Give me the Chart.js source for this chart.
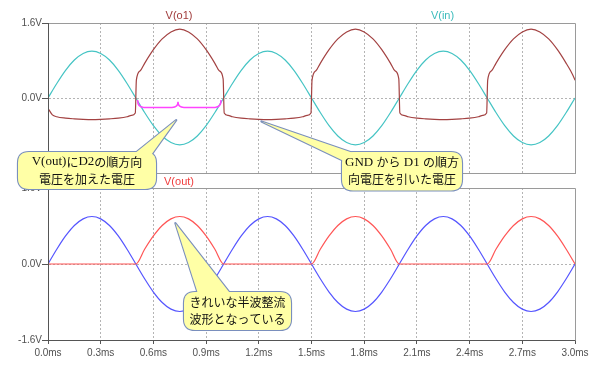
<!DOCTYPE html>
<html><head><meta charset="utf-8">
<script src="https://cdn.jsdelivr.net/npm/chart.js@4.4.1/dist/chart.umd.min.js"></script>
<style>
html,body{margin:0;padding:0;background:#fff;}
#wrap{position:relative;width:600px;height:366px;overflow:hidden;background:#fff;}
#top{position:absolute;left:0;top:0;}
#bot{position:absolute;left:0;top:180px;}
#ov{position:absolute;left:0;top:0;pointer-events:none;}
</style></head><body>
<div id="wrap">
<canvas id="top" width="600" height="180"></canvas>
<canvas id="bot" width="600" height="186"></canvas>
<canvas id="ov" width="600" height="366"></canvas>
</div>
<script>
// ---- data ----
const timeMs = [0,0.05,0.1,0.15,0.2,0.25,0.3,0.35,0.4,0.45,0.5,0.55,0.6,0.65,0.7,0.75,0.8,0.85,0.9,0.95,
  1.0,1.05,1.1,1.15,1.2,1.25,1.3,1.35,1.4,1.45,1.5,1.55,1.6,1.65,1.7,1.75,1.8,1.85,1.9,1.95,
  2.0,2.05,2.1,2.15,2.2,2.25,2.3,2.35,2.4,2.45,2.5,2.55,2.6,2.65,2.7,2.75,2.8,2.85,2.9,2.95,3.0];
const vIn = [0,0.31,0.59,0.81,0.95,1.0,0.95,0.81,0.59,0.31,0,-0.31,-0.59,-0.81,-0.95,-1.0,-0.95,-0.81,-0.59,-0.31,
  0,0.31,0.59,0.81,0.95,1.0,0.95,0.81,0.59,0.31,0,-0.31,-0.59,-0.81,-0.95,-1.0,-0.95,-0.81,-0.59,-0.31,
  0,0.31,0.59,0.81,0.95,1.0,0.95,0.81,0.59,0.31,0,-0.31,-0.59,-0.81,-0.95,-1.0,-0.95,-0.81,-0.59,-0.31,0];
const vOut = [0,0,0,0,0,0,0,0,0,0,0,0.31,0.59,0.81,0.95,1.0,0.95,0.81,0.59,0.31,
  0,0,0,0,0,0,0,0,0,0,0,0.31,0.59,0.81,0.95,1.0,0.95,0.81,0.59,0.31,
  0,0,0,0,0,0,0,0,0,0,0,0.31,0.59,0.81,0.95,1.0,0.95,0.81,0.59,0.31,0];
const o1Time = [0,0.025,0.05,0.1,0.15,0.2,0.25,0.3,0.35,0.4,0.45,0.475,0.497,0.503,0.525,0.55,0.6,0.65,0.7,0.75,0.8,0.85,0.9,0.95,0.975,0.997,
  1.003,1.025,1.05,1.1,1.15,1.2,1.25,1.3,1.35,1.4,1.45,1.475,1.497,1.503,1.525,1.55,1.6,1.65,1.7,1.75,1.8,1.85,1.9,1.95,1.975,1.997,
  2.003,2.025,2.05,2.1,2.15,2.2,2.25,2.3,2.35,2.4,2.45,2.475,2.497,2.503,2.525,2.55,2.6,2.65,2.7,2.75,2.8,2.85,2.9,2.95,2.975,2.997,3.0];
const vO1 = [-0.22,-0.36,-0.40,-0.43,-0.445,-0.455,-0.46,-0.455,-0.445,-0.43,-0.40,-0.37,-0.32,0.38,0.58,0.74,1.03,1.26,1.41,1.47,1.41,1.26,1.03,0.74,0.58,0.41,
  -0.32,-0.37,-0.40,-0.43,-0.445,-0.455,-0.46,-0.455,-0.445,-0.43,-0.40,-0.37,-0.32,0.38,0.58,0.74,1.03,1.26,1.41,1.47,1.41,1.26,1.03,0.74,0.58,0.41,
  -0.32,-0.37,-0.40,-0.43,-0.445,-0.455,-0.46,-0.455,-0.445,-0.43,-0.40,-0.37,-0.32,0.38,0.58,0.74,1.03,1.26,1.41,1.47,1.41,1.26,1.03,0.74,0.58,0.41,0.38];
const xTickValues = [0,0.3,0.6,0.9,1.2,1.5,1.8,2.1,2.4,2.7,3.0];
const xTickLabels = ['0.0ms','0.3ms','0.6ms','0.9ms','1.2ms','1.5ms','1.8ms','2.1ms','2.4ms','2.7ms','3.0ms'];
const yTickValuesTop = [0,1.6];
const yTickLabelsTop = ['0.0V','1.6V'];
const yTickValuesBot = [-1.6,0,1.6];
const yTickLabelsBot = ['-1.6V','0.0V','1.6V'];

const pts = (ts, vs) => ts.map((t, i) => ({x: t, y: vs[i]}));

const GRID = '#b4b4b4', AXIS = '#555555', FRAME = '#9a9a9a';
const tickFont = {family: '"Liberation Sans", Arial, sans-serif', size: 10};

function frame(){
  return { id: 'frame', afterDatasetsDraw(chart){
    const a = chart.chartArea, c = chart.ctx;
    c.save(); c.strokeStyle = FRAME; c.lineWidth = 1;
    c.beginPath();
    c.moveTo(Math.round(a.left)+0.5, Math.round(a.top)+0.5);
    c.lineTo(Math.round(a.right)+0.5, Math.round(a.top)+0.5);
    c.lineTo(Math.round(a.right)+0.5, Math.round(a.bottom)+0.5);
    c.stroke();
    c.strokeStyle = AXIS;
    c.beginPath();
    c.moveTo(Math.round(a.left)+0.5, Math.round(a.top));
    c.lineTo(Math.round(a.left)+0.5, Math.round(a.bottom)+1);
    c.stroke();
    c.restore();
  }};
}

function xScale(showLabels){
  return {
    type: 'linear', min: 0, max: 3,
    afterBuildTicks: s => { s.ticks = xTickValues.map(v => ({value: v})); },
    afterFit: s => { s.height = showLabels ? 26 : 0; },
    ticks: {display: showLabels, autoSkip: false, maxRotation: 0, padding: 3, color: '#505050', font: tickFont,
      callback: (v, i) => xTickLabels[i]},
    grid: {drawTicks: showLabels, tickLength: 4, tickColor: AXIS, lineWidth: 1,
      color: c => (c.tick && (c.tick.value === 0 || c.tick.value === 3)) ? 'rgba(0,0,0,0)' : GRID},
    border: {display: true, color: showLabels ? AXIS : FRAME, width: 1, dash: [2, 2]}
  };
}
function yScale(vals, labels){
  return {
    type: 'linear', min: -1.6, max: 1.6,
    afterBuildTicks: s => { s.ticks = vals.map(v => ({value: v})); },
    afterFit: s => { s.width = 48; },
    ticks: {autoSkip: false, padding: 0, color: '#505050', font: tickFont, callback: (v, i) => labels[i]},
    grid: {drawTicks: true, tickLength: 6, tickColor: AXIS, lineWidth: 1,
      color: c => (c.tick && c.tick.value === 0) ? GRID : 'rgba(0,0,0,0)'},
    border: {display: true, color: AXIS, width: 1, dash: [2, 2]}
  };
}
const common = {
  responsive: false, animation: false, events: [],
  plugins: {legend: {display: false}, tooltip: {enabled: false}, title: {display: false}},
  elements: {point: {radius: 0}, line: {borderWidth: 1.2, cubicInterpolationMode: 'monotone'}}
};

const topChart = new Chart(document.getElementById('top'), {
  type: 'line',
  data: {datasets: [
    {label: 'V(o1)', data: pts(o1Time, vO1), borderColor: '#a34242'},
    {label: 'V(in)', data: pts(timeMs, vIn), borderColor: '#45c4c4'}
  ]},
  options: Object.assign({}, common, {
    layout: {padding: {left: 0, right: 25, top: 23, bottom: 7}},
    scales: {x: xScale(false), y: yScale(yTickValuesTop, yTickLabelsTop)}
  }),
  plugins: [frame()]
});

const botChart = new Chart(document.getElementById('bot'), {
  type: 'line',
  data: {datasets: [
    {label: 'V(out)', data: pts(timeMs, vOut), borderColor: '#ff5555'},
    {label: 'V(in)', data: pts(timeMs, vIn), borderColor: '#5555ff'}
  ]},
  options: Object.assign({}, common, {
    layout: {padding: {left: 0, right: 25, top: 8, bottom: 0}},
    scales: {x: xScale(true), y: yScale(yTickValuesBot, yTickLabelsBot)}
  }),
  plugins: [frame()]
});

// ---- annotations (overlay) ----
const traceLabels = [
  {text: 'V(o1)', x: 179, y: 15.5, color: '#a03c3c'},
  {text: 'V(in)', x: 442.5, y: 15.5, color: '#3cbcbc'},
  {text: 'V(out)', x: 179, y: 181.5, color: '#f03c3c'}
];
const callouts = [
  {lines: ['V(out)にD2の順方向', '電圧を加えた電圧'], box: [18, 152, 156, 189],
   tip: {chart: 'top', t: 0.73, v: -0.47}, base: [[129, 158], [149, 158]]},
  {lines: ['GND から D1 の順方', '向電圧を引いた電圧'], box: [342, 152, 462, 190.5],
   tip: {chart: 'top', t: 1.215, v: -0.5}, base: [[346, 162], [362, 156]]},
  {lines: ['きれいな半波整流', '波形となっている'], box: [184, 292, 291, 330],
   tip: {chart: 'bot', t: 0.725, v: 0.86}, base: [[199, 297], [233, 297]]}
];
const brace = {t0: 0.51, t1: 0.985, tm: 0.74, v: -0.2, vEnd: -0.045, vMid: -0.08};
const LATIN_FONT = '13px "Liberation Serif", "Times New Roman", serif';
const CJK_FONT = '12px "Noto Sans CJK JP", sans-serif';

function px(which, t, v){
  const ch = which === 'top' ? topChart : botChart;
  const off = which === 'top' ? 0 : 180;
  return [ch.scales.x.getPixelForValue(t), ch.scales.y.getPixelForValue(v) + off];
}
function rr(c, x0, y0, x1, y1, r){
  c.beginPath();
  c.moveTo(x0 + r, y0); c.lineTo(x1 - r, y0); c.quadraticCurveTo(x1, y0, x1, y0 + r);
  c.lineTo(x1, y1 - r); c.quadraticCurveTo(x1, y1, x1 - r, y1);
  c.lineTo(x0 + r, y1); c.quadraticCurveTo(x0, y1, x0, y1 - r);
  c.lineTo(x0, y0 + r); c.quadraticCurveTo(x0, y0, x0 + r, y0); c.closePath();
}
function drawMixed(c, text, cx, cy){
  const runs = text.match(/[\x00-\x7F]+|[^\x00-\x7F]+/g) || [];
  const parts = runs.map(r => {
    const f = /^[\x00-\x7F]/.test(r) ? LATIN_FONT : CJK_FONT;
    c.font = f;
    return {r, f, w: c.measureText(r).width};
  });
  const total = parts.reduce((s, p) => s + p.w, 0);
  let x = cx - total / 2;
  c.textAlign = 'left'; c.textBaseline = 'middle';
  parts.forEach(p => { c.font = p.f; c.fillText(p.r, x, cy); x += p.w; });
}
(function drawOverlay(){
  const c = document.getElementById('ov').getContext('2d');
  // brace
  const [x0, yb] = px('top', brace.t0, brace.v);
  const [x1] = px('top', brace.t1, brace.v);
  const [xm, ym] = px('top', brace.tm, brace.vMid);
  const ye = px('top', 0, brace.vEnd)[1];
  c.strokeStyle = '#ff44ff'; c.lineWidth = 1.5;
  c.beginPath();
  c.moveTo(x0, ye); c.quadraticCurveTo(x0, yb, x0 + 6, yb); c.lineTo(xm - 6, yb);
  c.quadraticCurveTo(xm, yb, xm, ym); c.quadraticCurveTo(xm, yb, xm + 6, yb);
  c.lineTo(x1 - 6, yb); c.quadraticCurveTo(x1, yb, x1, ye); c.stroke();
  // trace labels
  c.font = '11px "Liberation Sans", Arial, sans-serif';
  c.textAlign = 'center'; c.textBaseline = 'middle';
  traceLabels.forEach(l => { c.fillStyle = l.color; c.fillText(l.text, l.x, l.y); });
  // callouts
  callouts.forEach(co => {
    const [bx0, by0, bx1, by1] = co.box;
    const tip = px(co.tip.chart, co.tip.t, co.tip.v);
    const tri = () => { c.beginPath(); c.moveTo(tip[0], tip[1]); c.lineTo(co.base[0][0], co.base[0][1]); c.lineTo(co.base[1][0], co.base[1][1]); c.closePath(); };
    c.lineWidth = 2.2; c.strokeStyle = '#7a8fbd'; c.lineJoin = 'round';
    rr(c, bx0, by0, bx1, by1, 11); c.stroke();
    tri(); c.stroke();
    c.fillStyle = '#ffffa6';
    rr(c, bx0, by0, bx1, by1, 11); c.fill();
    tri(); c.fill();
    c.fillStyle = '#111';
    const cx = (bx0 + bx1) / 2, cy = (by0 + by1) / 2;
    drawMixed(c, co.lines[0], cx, cy - 8.5);
    drawMixed(c, co.lines[1], cx, cy + 8.5);
  });
})();
</script>
</body></html>
